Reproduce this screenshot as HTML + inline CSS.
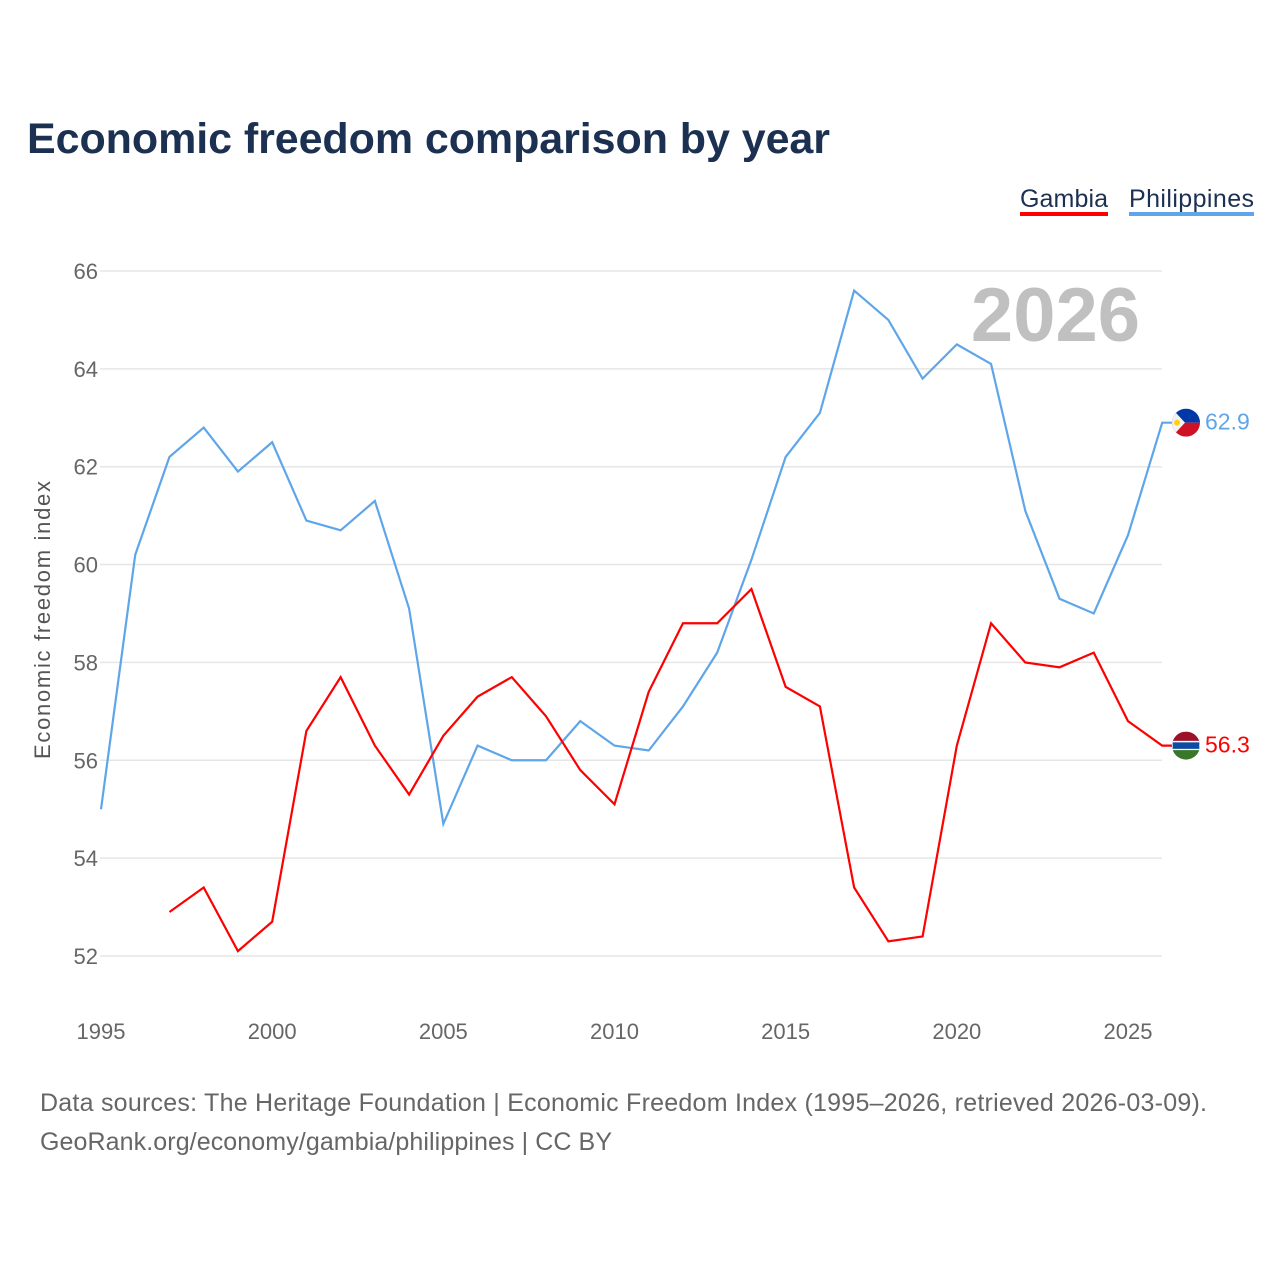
<!DOCTYPE html>
<html><head><meta charset="utf-8"><style>
body{margin:0;width:1280px;height:1280px;background:#fff;font-family:"Liberation Sans",sans-serif;overflow:hidden}
</style></head><body>
<svg width="1280" height="1280" id="chart">
<text x="27" y="153" font-size="43" font-weight="bold" fill="#1c3151" textLength="803">Economic freedom comparison by year</text>
<g>
<text x="1020" y="207" font-size="25" fill="#1c3151" textLength="88">Gambia</text>
<rect x="1020" y="212" width="88" height="4" fill="#ff0000"/>
<text x="1129" y="207" font-size="25" fill="#1c3151" textLength="125">Philippines</text>
<rect x="1129" y="212" width="125" height="4" fill="#5ea6e9"/>
</g>
<text x="1140" y="341" font-size="76" font-weight="bold" fill="#c0c0c0" text-anchor="end">2026</text>
<text transform="translate(50,620) rotate(-90)" font-size="22" fill="#555" text-anchor="middle" textLength="278">Economic freedom index</text>
<g id="grid"></g><g id="lines"></g><g id="ends"></g>
<text x="40" y="1111" font-size="25" fill="#666" textLength="1167">Data sources: The Heritage Foundation | Economic Freedom Index (1995–2026, retrieved 2026-03-09).</text>
<text x="40" y="1150" font-size="25" fill="#666" textLength="572">GeoRank.org/economy/gambia/philippines | CC BY</text>
</svg>
<script>
const years=[1995,1996,1997,1998,1999,2000,2001,2002,2003,2004,2005,2006,2007,2008,2009,2010,2011,2012,2013,2014,2015,2016,2017,2018,2019,2020,2021,2022,2023,2024,2025,2026];
const philippines=[55.0,60.2,62.2,62.8,61.9,62.5,60.9,60.7,61.3,59.1,54.7,56.3,56.0,56.0,56.8,56.3,56.2,57.1,58.2,60.1,62.2,63.1,65.6,65.0,63.8,64.5,64.1,61.1,59.3,59.0,60.6,62.9];
const gambia=[null,null,52.9,53.4,52.1,52.7,56.6,57.7,56.3,55.3,56.5,57.3,57.7,56.9,55.8,55.1,57.4,58.8,58.8,59.5,57.5,57.1,53.4,52.3,52.4,56.3,58.8,58.0,57.9,58.2,56.8,56.3];
const yTicks=[52,54,56,58,60,62,64,66];
const xTicks=[1995,2000,2005,2010,2015,2020,2025];
const NS="http://www.w3.org/2000/svg";
const X=y=>101+(y-1995)*34.233;
const Y=v=>956-(v-52)*48.93;
function mk(t,a,p){const e=document.createElementNS(NS,t);for(const k in a)e.setAttribute(k,a[k]);p.appendChild(e);return e;}
const grid=document.getElementById('grid');
yTicks.forEach(v=>{
 const l=mk('line',{x1:100,x2:1162,y1:Y(v),y2:Y(v),stroke:'#e6e6e6','stroke-width':1.5},grid);
 
 
 const t=mk('text',{x:98,y:Y(v)+8,'font-size':22,fill:'#666','text-anchor':'end'},grid);t.textContent=v;
 
 
});
xTicks.forEach(v=>{
 const t=mk('text',{x:X(v),y:1039,'font-size':22,fill:'#666','text-anchor':'middle'},grid);t.textContent=v;
 
 
});
const lines=document.getElementById('lines');
function path(arr,color,name){
 let d='',s=false;arr.forEach((v,i)=>{if(v==null){s=false;return;}d+=(s?'L':'M')+X(years[i])+','+Y(v);s=true;});
 const last=arr[arr.length-1];d+='L'+(X(2026)+10)+','+Y(last);
 const p=mk('path',{d:d,fill:'none',stroke:color,'stroke-width':2.2},lines);
 
 
}
path(philippines,'#5ea6e9','line-philippines');
path(gambia,'#ff0000','line-gambia');
const ends=document.getElementById('ends');
function endLabel(v,color,name,flag){
 const cx=1186,cy=Y(v);
 const g=mk('g',{},ends);
 
 
 const cp=mk('clipPath',{id:'c'+name},g);mk('circle',{cx:cx,cy:cy,r:14},cp);
 const f=mk('g',{'clip-path':'url(#c'+name+')'},g);
 if(flag==='ph'){
  mk('rect',{x:cx-14,y:cy-14,width:28,height:14,fill:'#0038a8'},f);
  mk('rect',{x:cx-14,y:cy,width:28,height:14,fill:'#ce1126'},f);
  mk('polygon',{points:`${cx-14},${cy-14} ${cx-1},${cy} ${cx-14},${cy+14}`,fill:'#f2f2f2'},f);
  mk('circle',{cx:cx-9,cy:cy,r:3,fill:'#fcd116'},f);
 }else{
  mk('rect',{x:cx-14,y:cy-14,width:28,height:10,fill:'#9b1127'},f);
  mk('rect',{x:cx-14,y:cy-4,width:28,height:8,fill:'#0c4ca3',stroke:'#fff','stroke-width':1.5},f);
  mk('rect',{x:cx-14,y:cy+4.5,width:28,height:10,fill:'#3a7728'},f);
 }
 const t=mk('text',{x:1205,y:cy+7,'font-size':23,fill:color},ends);t.textContent=v.toFixed(1);
 
 
}
endLabel(philippines[philippines.length-1],'#5ea6e9','philippines','ph');
endLabel(gambia[gambia.length-1],'#ff0000','gambia','gm');
</script>
</body></html>
